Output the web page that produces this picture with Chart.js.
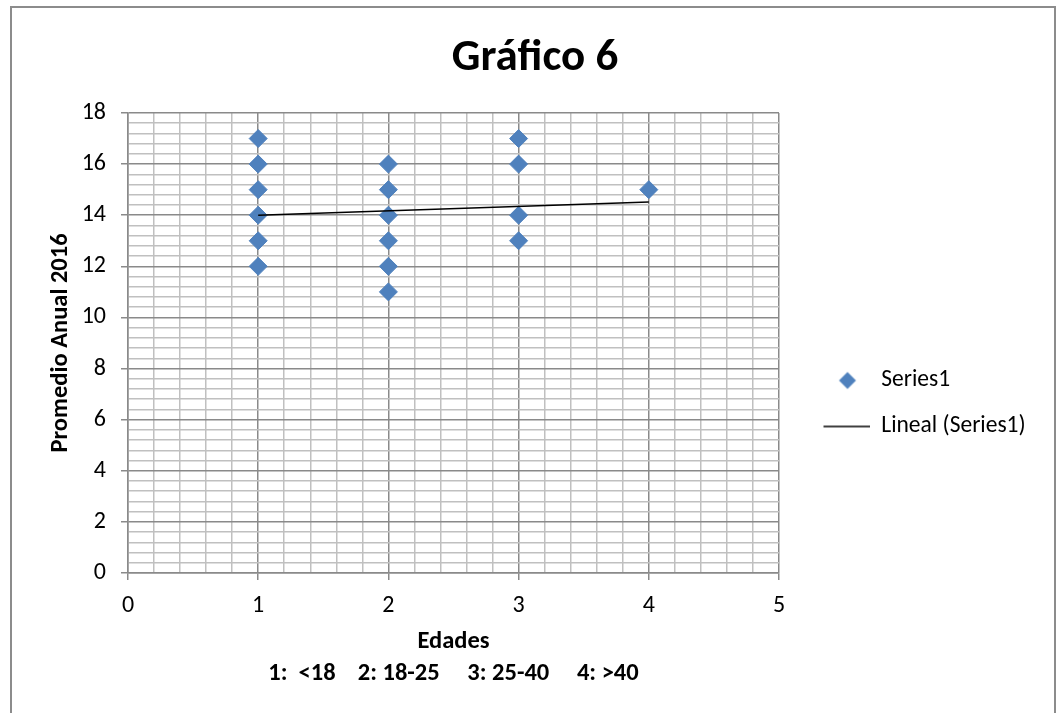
<!DOCTYPE html>
<html lang="es">
<head>
<meta charset="utf-8">
<title>Gráfico 6</title>
<script src="https://cdn.jsdelivr.net/npm/chart.js@4/dist/chart.umd.min.js"></script>
<style>
  html, body { margin: 0; padding: 0; background: #fff; }
  #marco { position: absolute; left: 0; top: 0; width: 1059px; height: 713px; }
  #borde {
    position: absolute; left: 10px; top: 6px; width: 1046px; height: 720px;
    border: 2px solid #8c8c8c; box-sizing: border-box; pointer-events: none;
  }
</style>
</head>
<body>
<div id="marco">
  <canvas id="grafico" width="1059" height="713"></canvas>
  <div id="borde"></div>
</div>
<script>
// datos
const edadesX = [1, 1, 1, 1, 1, 1, 2, 2, 2, 2, 2, 2, 3, 3, 3, 3, 4];
const promediosY = [17, 16, 15, 14, 13, 12, 16, 15, 14, 13, 12, 11, 17, 16, 14, 13, 15];
const tendenciaX = [1, 4];
const tendenciaY = [14.0, 14.52];
const nombreSerie = 'Series1';
const nombreTendencia = 'Lineal (Series1)';

const fuente = 'Carlito, Lato, "Liberation Sans", sans-serif';
const azul = '#4f81bd';
const grisMayor = '#8a8a8a';
const grisMenor = '#c0c0c0';

const tamLeyenda = 23.5;
const anchoIcono = 68;

function esEntero(v, paso) {
  let q = v / paso;
  return Math.abs(q - Math.round(q)) < 1e-6;
}

// iconos de la leyenda (rombo y linea)
function crearIcono(tipo) {
  const c = document.createElement('canvas');
  c.width = anchoIcono;
  c.height = 20;
  const g = c.getContext('2d');
  if (tipo === 'rombo') {
    g.fillStyle = azul;
    g.beginPath();
    g.moveTo(46 - 8.5, 10);
    g.lineTo(46, 1.5);
    g.lineTo(46 + 8.5, 10);
    g.lineTo(46, 18.5);
    g.closePath();
    g.fill();
  } else {
    g.strokeStyle = '#000';
    g.lineWidth = 1.5;
    g.beginPath();
    g.moveTo(22, 10);
    g.lineTo(anchoIcono, 10);
    g.stroke();
  }
  return c;
}
const iconos = [crearIcono('rombo'), crearIcono('linea')];

const puntos = edadesX.map((x, i) => ({ x, y: promediosY[i] }));
const tendencia = tendenciaX.map((x, i) => ({ x, y: tendenciaY[i] }));

// la leyenda ocupa de x=779 hasta el borde derecho
const anchoLeyenda = {
  id: 'anchoLeyenda',
  afterInit(c) {
    const lg = c.legend;
    if (!lg) return;
    const fitOriginal = lg.fit;
    lg.fit = function() {
      fitOriginal.call(this);
      this.width = 1059 - 779;
    };
  }
};

const ctx = document.getElementById('grafico').getContext('2d');
const chart = new Chart(ctx, {
  type: 'scatter',
  plugins: [anchoLeyenda],
  data: {
    datasets: [
      {
        label: nombreSerie,
        data: puntos,
        pointStyle: 'rectRot',
        pointRadius: 9,
        pointHoverRadius: 9,
        backgroundColor: azul,
        borderColor: azul,
        borderWidth: 1,
        order: 2
      },
      {
        label: nombreTendencia,
        type: 'line',
        data: tendencia,
        showLine: true,
        borderColor: '#000',
        borderWidth: 1.5,
        pointRadius: 0,
        fill: false,
        order: 1
      }
    ]
  },
  options: {
    responsive: false,
    animation: false,
    devicePixelRatio: 1,
    layout: { padding: { left: 11, top: 7, right: 0, bottom: 7 } },
    plugins: {
      title: {
        display: true,
        text: 'Gráfico 6',
        color: '#000',
        font: { family: fuente, size: 45, weight: 'bold', lineHeight: 1.2 },
        padding: { top: 25, bottom: 27 }
      },
      legend: {
        position: 'right',
        fullSize: false,
        align: 'start',
        title: { display: true, text: '', font: { size: 12 }, padding: { top: 218.8, bottom: 0 } },
        labels: {
          color: '#000',
          font: { family: fuente, size: tamLeyenda },
          usePointStyle: true,
          pointStyleWidth: anchoIcono,
          padding: 22.5,
          sort: (a, b) => a.datasetIndex - b.datasetIndex,
          generateLabels: c => {
            const items = Chart.defaults.plugins.legend.labels.generateLabels(c);
            items.forEach(it => { it.pointStyle = iconos[it.datasetIndex]; });
            return items;
          }
        }
      },
      tooltip: { enabled: false }
    },
    scales: {
      x: {
        type: 'linear',
        min: 0,
        max: 5,
        afterFit: s => { s.height = 133; },
        ticks: {
          stepSize: 0.2,
          autoSkip: false,
          maxRotation: 0,
          padding: 12,
          color: '#000',
          font: { family: fuente, size: 24 },
          callback: v => esEntero(v, 1) ? Math.round(v) : ''
        },
        grid: {
          lineWidth: 1.5,
          tickLength: 7,
          color: c => (c.tick && esEntero(c.tick.value, 1)) ? grisMayor : grisMenor,
          tickColor: c => (c.tick && esEntero(c.tick.value, 1)) ? grisMayor : 'rgba(0,0,0,0)'
        },
        border: { color: grisMayor, width: 1.5 },
        title: {
          display: true,
          text: ['Edades', '1:  <18    2: 18-25     3: 25-40     4: >40'],
          color: '#000',
          font: { family: fuente, size: 24.5, weight: 'bold', lineHeight: 32 / 24.5 },
          padding: { top: 0, bottom: 16 }
        }
      },
      y: {
        type: 'linear',
        min: 0,
        max: 18,
        afterFit: s => { s.width = 117; },
        ticks: {
          stepSize: 0.4,
          autoSkip: false,
          padding: 15,
          color: '#000',
          font: { family: fuente, size: 24 },
          callback: v => esEntero(v, 2) ? Math.round(v) : ''
        },
        grid: {
          lineWidth: 1.5,
          tickLength: 7,
          color: c => (c.tick && esEntero(c.tick.value, 2)) ? grisMayor : grisMenor,
          tickColor: c => (c.tick && esEntero(c.tick.value, 2)) ? grisMayor : 'rgba(0,0,0,0)'
        },
        border: { color: grisMayor, width: 1.5 },
        title: {
          display: true,
          text: 'Promedio Anual 2016',
          color: '#000',
          font: { family: fuente, size: 24.5, weight: 'bold', lineHeight: 1.2 },
          padding: { top: 35.3, bottom: 0 }
        }
      }
    }
  }
});
</script>
</body>
</html>
